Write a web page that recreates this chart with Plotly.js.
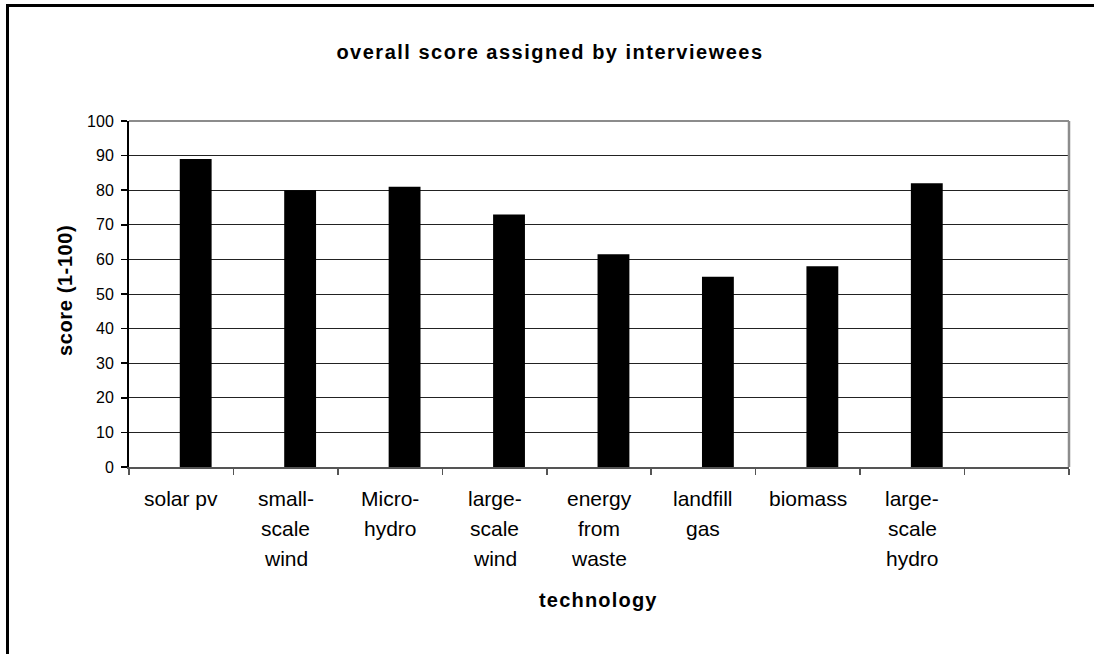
<!DOCTYPE html>
<html>
<head>
<meta charset="utf-8">
<script src="https://cdn.plot.ly/plotly-3.0.1.min.js"></script>
<style>
html, body { margin: 0; padding: 0; background: #fff; overflow: hidden; }
#chart { width: 1094px; height: 654px; }
.gtitle { letter-spacing: 1.5px; }
</style>
</head>
<body>
<div id="chart"></div>
<script>
// ---- data ----
const categories = ["solar pv", "small-\nscale\nwind", "Micro-\nhydro", "large-\nscale\nwind",
                    "energy\nfrom\nwaste", "landfill\ngas", "biomass", "large-\nscale\nhydro"];
const scores = [89, 80, 81, 73, 61.5, 55, 58, 82];
const yTicks = [0, 10, 20, 30, 40, 50, 60, 70, 80, 90, 100];
const chartTitle = "overall score assigned by interviewees";
const xTitle = "technology";
const yTitle = "score (1-100)";
const nSlots = 9; // Excel chart reserves one extra empty category

// ---- layout constants ----
const W = 1094, H = 654;
const L = 129, R = 25, T = 121, B = 187;
const pw = W - L - R, ph = H - T - B;
const FONT = "Liberation Sans, Arial, sans-serif";

const xIdx = categories.map((c, i) => i);
const boundaries = [];
for (let i = 0; i <= nSlots; i++) boundaries.push(i - 0.5);

const trace = {
  type: "bar",
  x: xIdx,
  y: scores,
  width: 0.305,
  offset: -0.014,
  marker: { color: "#000000", line: { width: 0 } },
  hoverinfo: "skip"
};

const annotations = [];
categories.forEach((lab, i) => {
  lab.split("\n").forEach((line, j) => {
    annotations.push({
      xref: "x", yref: "paper", x: i, y: 0,
      yanchor: "middle", xanchor: "center",
      yshift: -(31 + 30 * j),
      text: line, showarrow: false,
      font: { family: FONT, size: 21, color: "#000" }
    });
  });
});
const xTitleIdx = annotations.length;
annotations.push({
  xref: "paper", yref: "paper",
  x: 0.5, y: -(600 - (T + ph)) / ph,
  xanchor: "center", yanchor: "middle",
  text: "<b>" + xTitle + "</b>", showarrow: false,
  font: { family: FONT, size: 20, color: "#000" }
});
const yTitleIdx = annotations.length;
annotations.push({
  xref: "paper", yref: "paper",
  x: (65 - L) / pw, y: ((T + ph) - 291) / ph,
  xanchor: "center", yanchor: "middle", textangle: -90,
  text: "<b>" + yTitle + "</b>", showarrow: false,
  font: { family: FONT, size: 20, color: "#000" }
});

const layout = {
  width: W, height: H,
  margin: { l: L, r: R, t: T, b: B, pad: 0 },
  paper_bgcolor: "#fff", plot_bgcolor: "#fff",
  showlegend: false,
  title: {
    text: "<b>" + chartTitle + "</b>",
    xref: "container", yref: "container",
    x: 550 / W, y: 1 - 52 / H, xanchor: "center", yanchor: "middle",
    font: { family: FONT, size: 20, color: "#000" }
  },
  xaxis: {
    type: "linear",
    range: [-0.5, nSlots - 0.5],
    tickmode: "array", tickvals: boundaries,
    showticklabels: false,
    ticks: "outside", ticklen: 6, tickwidth: 1.5, tickcolor: "#555",
    showgrid: false, zeroline: false,
    showline: true, linecolor: "#555", linewidth: 2,
    fixedrange: true
  },
  yaxis: {
    range: [0, 100],
    tickmode: "array", tickvals: yTicks,
    ticks: "outside", ticklen: 6, tickwidth: 1.5, tickcolor: "#000",
    ticklabelstandoff: 4,
    tickfont: { family: FONT, size: 16, color: "#000" },
    showgrid: true, gridcolor: "#222", gridwidth: 1,
    zeroline: false,
    showline: true, linecolor: "#000", linewidth: 2,
    fixedrange: true
  },
  annotations: annotations,
  shapes: [
    // white cover for the right edge strip (outside the chart frame)
    { type: "rect", xref: "paper", yref: "paper",
      x0: (1078 - L) / pw, x1: (W + 20 - L) / pw,
      y0: -(H + 20 - (T + ph)) / ph, y1: ((T + ph) - 8) / ph,
      line: { width: 0 }, fillcolor: "#ffffff", layer: "above" },
    // plot area border (top and right), grey
    { type: "line", xref: "paper", yref: "paper", x0: 0, x1: 1, y0: 1, y1: 1,
      line: { color: "#8c8c8c", width: 2 } },
    { type: "line", xref: "paper", yref: "paper", x0: 1, x1: 1, y0: 0, y1: 1,
      line: { color: "#8c8c8c", width: 2.5 } },
    // chart area outer border (black): only left and top edges are inside the picture
    { type: "line", xref: "paper", yref: "paper",
      x0: (7.5 - L) / pw, x1: (7.5 - L) / pw,
      y0: -(H + 5 - (T + ph)) / ph, y1: ((T + ph) - 4) / ph,
      line: { color: "#000", width: 3 }, layer: "above" },
    { type: "line", xref: "paper", yref: "paper",
      x0: (6 - L) / pw, x1: (W + 5 - L) / pw,
      y0: ((T + ph) - 5.5) / ph, y1: ((T + ph) - 5.5) / ph,
      line: { color: "#000", width: 3 }, layer: "above" }
  ]
};

Plotly.newPlot("chart", [trace], layout, { displayModeBar: false, staticPlot: true }).then(() => {
  const gs = document.querySelectorAll("g.annotation");
  if (gs[xTitleIdx]) gs[xTitleIdx].querySelectorAll("text").forEach(t => t.style.letterSpacing = "1.2px");
  if (gs[yTitleIdx]) gs[yTitleIdx].querySelectorAll("text").forEach(t => t.style.letterSpacing = "0.6px");
});
</script>
</body>
</html>
